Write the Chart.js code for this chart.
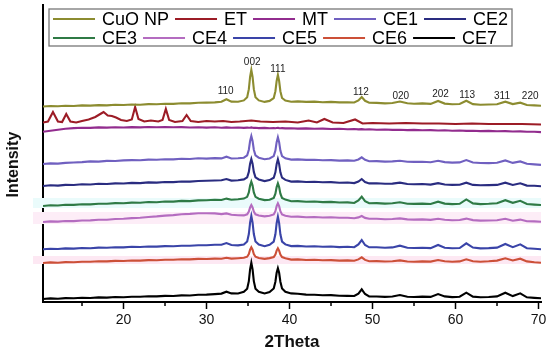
<!DOCTYPE html>
<html lang="en">
<head>
  <meta charset="UTF-8">
  <title>XRD patterns</title>
  <script src="https://cdn.jsdelivr.net/npm/chart.js"></script>
  <style>
    body { margin: 0; background: #fff; }
    #wrap { width: 550px; height: 353px; }
  </style>
</head>
<body>
  <div id="wrap"><canvas id="xrdChart" width="550" height="353"></canvas></div>

  <script>
    // 2Theta grid shared by every pattern except ET
    const thetaGrid = [10.3, 11.2, 12.1, 13, 14, 15, 16, 17, 18, 19,
      20, 21, 22, 23, 24, 25, 26, 27, 28, 29,
      30, 31, 31.8, 32.4, 33, 33.8, 34.5, 34.9, 35.1, 35.25,
      35.4, 35.55, 35.7, 35.9, 36.3, 37, 37.6, 38.1, 38.3, 38.45,
      38.6, 38.75, 38.9, 39.1, 39.5, 40.2, 41, 42, 43, 44,
      45, 46, 47, 47.8, 48.3, 48.7, 49.1, 49.6, 50.5, 51.5,
      52.4, 53.3, 54.2, 55, 56, 57, 57.9, 58.7, 59.6, 60.5,
      61.3, 62.1, 63, 64, 65, 66, 66.9, 67.8, 68.6, 69.5, 70.3];

    // stacked intensities (arbitrary units, offset per sample)
    const cuoNp = [195.5, 196, 195.8, 196.3, 196, 196.6, 196.4, 196.9, 196.6, 197.2,
      197, 197.5, 197.3, 197.9, 197.7, 198.3, 198.1, 198.7, 198.6, 199.2,
      199.4, 199.6, 200.3, 202.8, 200.4, 200.2, 201.6, 204.8, 212.8, 225,
      232, 225, 212.8, 204.8, 201.6, 200.1, 201.1, 204, 210.8, 221,
      227, 221, 210.8, 204, 201.4, 200.3, 200.6, 200.1, 200.4, 199.8,
      200.1, 199.6, 199.8, 199.5, 201.5, 205, 201.2, 199.3, 199.1, 198.6,
      199, 200.5, 198.7, 198.3, 198.6, 198.1, 201, 198.4, 197.8, 198,
      201.3, 197.9, 197.3, 197.5, 197.8, 200.3, 197.9, 199.3, 197, 196.6, 196.2];

    const etTheta = [10.3, 10.9, 11.5, 12.1, 12.6, 13.1, 13.6, 14.3, 15, 15.8,
      16.6, 17.2, 17.6, 18.1, 18.6, 19.1, 19.7, 20.4, 21, 21.4,
      21.8, 22.5, 23.3, 24.2, 24.7, 25.1, 25.5, 26.2, 27.1, 27.6,
      28.1, 29, 30, 31, 32, 33, 34, 35.4, 36.5, 38,
      39.5, 41, 42.3, 43.3, 44.2, 45.2, 46.5, 47.9, 48.8, 50,
      52, 54, 56, 58, 60, 62, 64, 66, 68, 70.3];
    const et = [179.5, 180.5, 190, 180.5, 180, 188, 180.5, 179.5, 181, 182.5,
      185, 188, 190, 186.5, 186, 184.5, 182, 181, 182.5, 195,
      183, 180.5, 181.5, 180.5, 182, 193, 182, 180, 181, 187,
      181, 180, 181, 180.5, 181, 180, 180.5, 181.5, 180.5, 180,
      180.5, 179.5, 181.5, 179.5, 183, 179.5, 179, 182.5, 178.5, 179,
      178.5, 179, 178.5, 178.5, 178, 178.5, 178, 178, 178, 177.5];

    const mt = [170.3, 171.3, 172.2, 173.2, 173.9, 174.3, 174.1, 174.6, 174.4, 174.8,
      174.5, 174.9, 174.6, 175, 174.7, 175, 174.7, 174.9, 174.5, 174.8,
      174.4, 174.7, 174.3, 174.6, 174.2, 174.5, 174.1, 174.4, 174.2, 174.3,
      174.6, 174.2, 174.1, 174.3, 173.9, 174.1, 173.8, 174, 173.8, 174,
      174.2, 173.9, 173.7, 173.9, 173.6, 173.8, 173.4, 173.6, 173.2, 173.4,
      173, 173.2, 172.8, 173, 172.6, 172.9, 172.5, 172.7, 172.3, 172.5,
      172.1, 172.3, 171.9, 172.1, 171.7, 171.9, 171.5, 171.7, 171.3, 171.5,
      171.1, 171.3, 170.9, 171.1, 170.7, 170.9, 170.5, 170.6, 170.2, 170.3, 169.9];

    const ce1 = [138, 138.6, 138.4, 139.1, 139.5, 139.9, 140.6, 140.4, 141.1, 141,
      141.6, 141.9, 141.7, 142.4, 142.2, 142.8, 142.6, 143.2, 143, 143.7,
      143.4, 143.9, 143.6, 145.3, 143.5, 143.8, 144.3, 146.6, 152.3, 161,
      166, 161, 152.3, 146.6, 144.3, 142.8, 143.5, 145.9, 151.4, 159.8,
      164.7, 159.8, 151.4, 145.9, 143.7, 142.4, 142.6, 142.1, 142.3, 141.8,
      141.9, 141.4, 141.6, 141.2, 142.5, 144.7, 142.2, 140.8, 140.9, 140.4,
      140.6, 141.2, 140.3, 140.1, 140.2, 139.8, 141.3, 139.9, 139.4, 139.6,
      142, 139.5, 139, 138.9, 139.2, 141.6, 139.1, 140.6, 138.2, 137.6, 137.1];

    const ce2 = [116, 116.7, 116.4, 117.1, 117, 117.7, 117.5, 118.2, 118, 118.6,
      118.5, 119.1, 118.9, 119.6, 119.4, 120, 119.9, 120.5, 120.4, 121,
      121.2, 121.5, 121.8, 123, 121.4, 121.8, 122.6, 124.7, 130.1, 138.3,
      143, 138.3, 130.1, 124.7, 122.5, 120.9, 121.9, 124.3, 129.7, 137.9,
      142.7, 137.9, 129.7, 124.3, 122.1, 120.4, 120.6, 120, 120.3, 119.7,
      119.9, 119.3, 119.5, 118.9, 120.4, 123, 120, 118.6, 118.7, 118.2,
      118.4, 119.4, 118, 117.8, 118, 117.4, 118.9, 117.5, 117.1, 117.3,
      119.3, 117.1, 116.7, 116.9, 117.1, 119.3, 117, 118.7, 116.4, 116.2, 115.8];

    const ce3 = [96, 96.8, 96.5, 97.3, 97.1, 97.8, 97.6, 98.3, 98.2, 98.9,
      98.7, 99.4, 99.3, 100, 99.8, 100.5, 100.4, 101.1, 100.9, 101.6,
      101.7, 102.2, 102, 103.4, 102.3, 102.7, 103.4, 105.2, 109.6, 116.4,
      120.3, 116.4, 109.6, 105.2, 103.3, 101.9, 102.2, 104.1, 108.4, 114.9,
      118.7, 114.9, 108.4, 104.1, 102.4, 100.8, 100.9, 100.3, 100.5, 99.9,
      100.1, 99.5, 99.6, 99, 101.5, 105.3, 100.8, 98.8, 98.9, 98.4,
      98.7, 99.8, 98.3, 98.1, 98.4, 98, 100.3, 98.4, 97.9, 98.2,
      102.6, 98.6, 97.9, 98.2, 98.8, 101.8, 99.2, 101.2, 98, 97.4, 97];

    const ce4 = [80, 80.6, 80.4, 81, 80.9, 81.5, 81.6, 82.2, 82.3, 83,
      83.2, 83.9, 84.3, 85, 85.6, 86.4, 86.9, 87.7, 88.1, 88.8,
      88.7, 88.6, 87.9, 88.6, 87.3, 86.8, 86.6, 87.7, 90.4, 94.6,
      97, 94.6, 90.4, 87.7, 86.4, 85.6, 86.2, 87.5, 90.8, 95.8,
      98.7, 95.8, 90.8, 87.5, 86.2, 85.2, 85.4, 84.8, 85, 84.5,
      84.7, 84.2, 84.3, 83.7, 84.6, 86, 84.1, 83.2, 83.3, 82.7,
      83, 83.6, 82.6, 82.4, 82.6, 82.1, 83.3, 82.2, 81.8, 82,
      83.4, 81.9, 81.4, 81.5, 81.7, 83.2, 81.3, 82.4, 80.8, 80.6, 80.3];

    const ce5 = [52.7, 53.3, 53, 53.6, 53.4, 54, 53.8, 54.4, 54.3, 54.8,
      54.6, 55.2, 55, 55.5, 55.4, 55.9, 55.7, 56.3, 56.2, 56.8,
      56.8, 57.2, 57.3, 58.9, 57, 56.6, 57.5, 60.5, 68, 79.4,
      86, 79.4, 68, 60.5, 57.4, 55.8, 57.2, 60.4, 67.7, 78.9,
      85.3, 78.9, 67.7, 60.4, 57.6, 55.9, 56.1, 55.5, 55.8, 55.2,
      55.5, 54.9, 55.2, 54.8, 57.6, 62, 57, 54.7, 54.8, 54.3,
      54.6, 56.3, 54.2, 54, 54.3, 53.9, 57, 54.3, 53.8, 54,
      58.7, 54.4, 53.6, 53.9, 54.4, 58, 54.8, 57.7, 53.8, 53.2, 52.7];

    const ce6 = [39, 39.6, 39.3, 39.9, 39.7, 40.3, 40.2, 40.7, 40.6, 41.1,
      41, 41.5, 41.4, 41.9, 41.8, 42.3, 42.2, 42.7, 42.6, 43.1,
      43, 43.4, 43.2, 44.3, 43.4, 43.8, 44.2, 45.3, 48, 52.3,
      54.7, 52.3, 48, 45.3, 44, 43.1, 43.9, 44.9, 47.5, 51.4,
      53.7, 51.4, 47.5, 44.9, 43.8, 42.4, 42.6, 42, 42.2, 41.7,
      41.9, 41.4, 41.6, 41.2, 42.6, 44.7, 42.1, 40.8, 40.9, 40.5,
      40.7, 41.6, 40.5, 40.3, 40.6, 40.4, 42, 40.7, 40.3, 40.6,
      42.7, 40.8, 40.3, 40.7, 41.4, 43.7, 41.5, 43.3, 40.6, 39.8, 39.3];

    const ce7 = [3, 3.6, 3.3, 3.9, 3.7, 4.2, 4, 4.6, 4.4, 5,
      4.8, 5.3, 5.2, 5.7, 5.6, 6.1, 6, 6.6, 6.5, 7.2,
      7.4, 7.9, 8.4, 10.3, 8.6, 8.5, 10.2, 13.3, 20.9, 32.6,
      39.3, 32.6, 20.9, 13.3, 10.2, 8.6, 10, 13.5, 20.3, 29.2,
      33.7, 29.2, 20.3, 13.5, 10.3, 8.6, 8.2, 7.4, 7.3, 6.8,
      6.9, 6.3, 6.1, 6, 8.4, 12.7, 8, 5.6, 5.5, 5.1,
      5.5, 7, 5.2, 5, 5.4, 5.1, 8, 5.6, 4.9, 5.3,
      9.3, 5.4, 4.8, 5, 5.6, 9.3, 5.9, 8.7, 4.7, 4.1, 3.7];

    const seriesNames = ['CuO NP', 'ET', 'MT', 'CE1', 'CE2', 'CE3', 'CE4', 'CE5', 'CE6', 'CE7'];
    const seriesValues = [cuoNp, et, mt, ce1, ce2, ce3, ce4, ce5, ce6, ce7];
    const seriesColors = ['#8c8c30', '#9c1c26', '#922c8e', '#7060c0', '#2a2c80',
      '#2f7a45', '#b46cc0', '#3a44a8', '#cc5038', '#000000'];

    // Miller indices written above the CuO NP pattern
    const peakNames = ['110', '002', '111', '112', '020', '202', '113', '311', '220'];
    const peakLabelTheta = [32.3, 35.5, 38.6, 48.6, 53.4, 58.2, 61.4, 65.6, 69.0];
    const peakLabelLevel = [210.3, 239.5, 233, 209.3, 206, 208, 207, 205.5, 206];

    const xTickValues = [20, 30, 40, 50, 60, 70];
    const minorTicks = [15, 25, 35, 45, 55, 65];

    // faint highlight bands behind some patterns
    const bandLow = [94, 78, 38];
    const bandHigh = [104, 90, 46];
    const bandColors = ['#eafbfb', '#fdedf7', '#fde8f3'];

    const FONT = 'Arial, "Liberation Sans", sans-serif';

    const datasets = seriesNames.map((name, i) => {
      const xs = name === 'ET' ? etTheta : thetaGrid;
      return {
        label: name,
        data: seriesValues[i].map((v, j) => ({ x: xs[j], y: v })),
        borderColor: seriesColors[i],
        borderWidth: 2.1,
        pointRadius: 0,
        tension: 0,
        fill: false
      };
    });

    const decor = {
      id: 'decor',
      beforeDatasetsDraw(chart) {
        const { ctx, chartArea, scales: { y } } = chart;
        ctx.save();
        bandLow.forEach((lo, i) => {
          const top = y.getPixelForValue(bandHigh[i]);
          const bot = y.getPixelForValue(lo);
          ctx.fillStyle = bandColors[i];
          ctx.fillRect(chartArea.left - 10, top, chartArea.right - chartArea.left + 10, bot - top);
        });
        ctx.restore();
      },
      afterDraw(chart) {
        const { ctx, chartArea, scales: { x, y } } = chart;
        ctx.save();

        // minor ticks on the 2Theta axis
        ctx.strokeStyle = '#000';
        ctx.lineWidth = 1.5;
        minorTicks.forEach(t => {
          const px = x.getPixelForValue(t);
          ctx.beginPath();
          ctx.moveTo(px, chartArea.bottom);
          ctx.lineTo(px, chartArea.bottom + 4);
          ctx.stroke();
        });

        // peak labels
        ctx.fillStyle = '#222';
        ctx.font = '10px ' + FONT;
        ctx.textAlign = 'center';
        ctx.textBaseline = 'middle';
        peakNames.forEach((p, i) => {
          ctx.fillText(p, x.getPixelForValue(peakLabelTheta[i]), y.getPixelForValue(peakLabelLevel[i]));
        });

        // boxed legend, two rows of five
        const boxL = chartArea.left + 6, boxT = chartArea.top + 4;
        const boxR = boxL + 463, boxB = boxT + 37;
        ctx.fillStyle = '#fff';
        ctx.fillRect(boxL, boxT, boxR - boxL, boxB - boxT);
        ctx.strokeStyle = '#777';
        ctx.lineWidth = 1.3;
        ctx.strokeRect(boxL, boxT, boxR - boxL, boxB - boxT);

        ctx.font = '18px ' + FONT;
        ctx.textAlign = 'left';
        ctx.textBaseline = 'middle';
        let lx = boxL + 4;
        seriesNames.forEach((name, i) => {
          if (i === 5) lx = boxL + 4;
          const rowY = boxT + (i < 5 ? 10 : 29);
          ctx.strokeStyle = seriesColors[i];
          ctx.lineWidth = 2;
          ctx.beginPath();
          ctx.moveTo(lx, rowY);
          ctx.lineTo(lx + 42, rowY);
          ctx.stroke();
          ctx.fillStyle = '#000';
          ctx.fillText(name, lx + 49, rowY + 1);
          lx = lx + 49 + ctx.measureText(name).width + 6;
        });
        ctx.restore();
      }
    };

    new Chart(document.getElementById('xrdChart').getContext('2d'), {
      type: 'line',
      data: { datasets },
      plugins: [decor],
      options: {
        responsive: false,
        animation: false,
        maintainAspectRatio: false,
        layout: { padding: { left: 0, right: 9, top: 5, bottom: 0 } },
        plugins: {
          legend: { display: false },
          tooltip: { enabled: false }
        },
        scales: {
          x: {
            type: 'linear',
            min: 10.3,
            max: 70.3,
            afterFit: s => { s.height = 51; },
            afterBuildTicks: s => { s.ticks = xTickValues.map(v => ({ value: v })); },
            ticks: {
              color: '#111',
              font: { family: FONT, size: 14 },
              padding: 3,
              maxRotation: 0
            },
            grid: {
              display: true,
              drawOnChartArea: false,
              drawTicks: true,
              tickLength: 7,
              tickWidth: 1.5,
              tickColor: '#000'
            },
            border: { display: true, color: '#000', width: 2 },
            title: {
              display: true,
              text: '2Theta',
              color: '#111',
              font: { family: FONT, size: 17, weight: 'bold' },
              padding: { top: 0, bottom: 0 }
            }
          },
          y: {
            min: 0,
            max: 297,
            afterFit: s => { s.width = 43; },
            ticks: { display: false },
            grid: { display: false },
            border: { display: true, color: '#000', width: 2 },
            title: {
              display: true,
              text: 'Intensity     ',
              color: '#111',
              font: { family: FONT, size: 16, weight: 'bold' },
              padding: { top: 4, bottom: 0 }
            }
          }
        }
      }
    });
  </script>
</body>
</html>
